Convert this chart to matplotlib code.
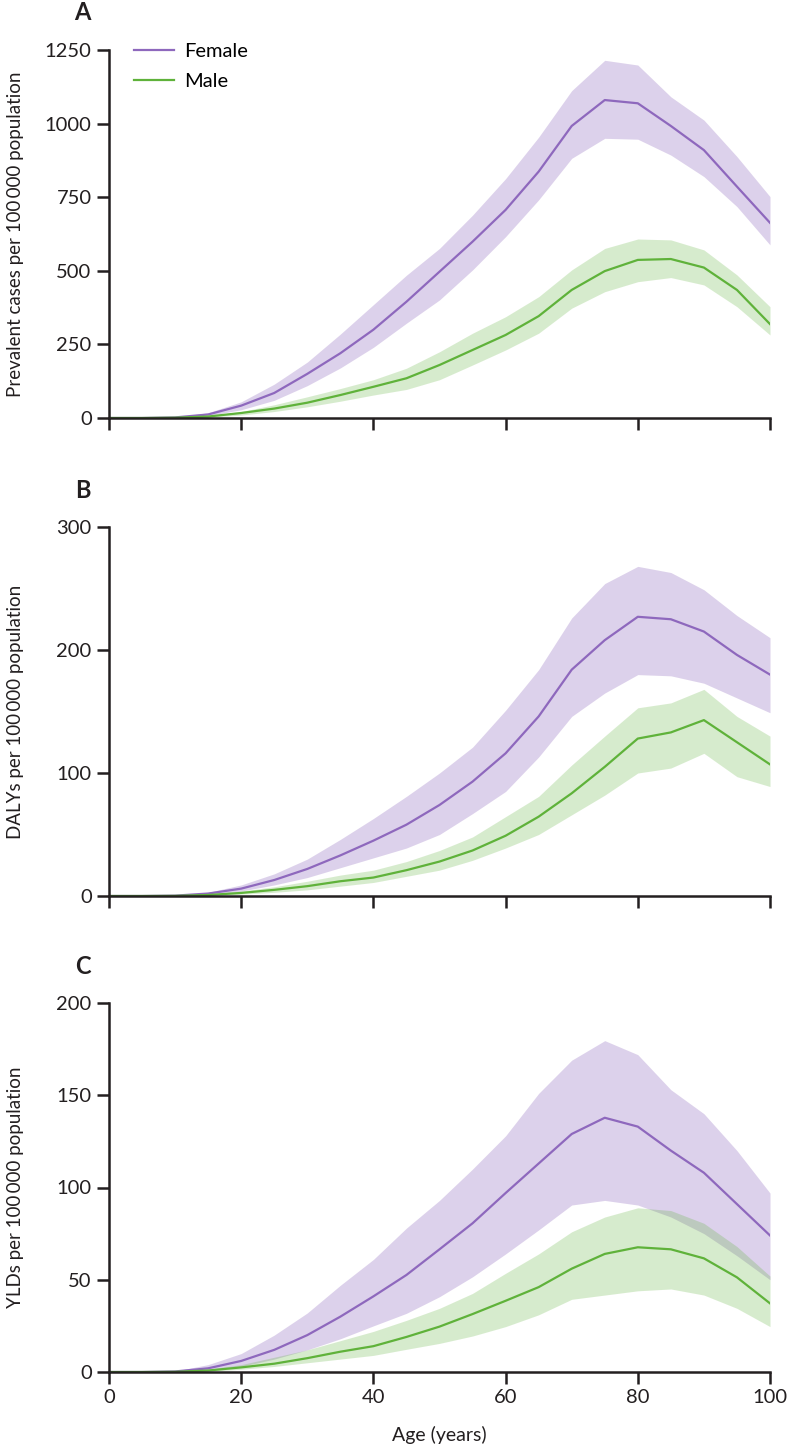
import numpy as np
import matplotlib
matplotlib.use('Agg')
import matplotlib.pyplot as plt

plt.rcParams['font.family'] = ['Lato', 'DejaVu Sans']

# =========================
# Datos
# =========================
ages = np.arange(0, 101, 5)

# A: casos prevalentes por 100 000
prev_f = [0, 0, 2, 12, 42, 85, 150, 220, 300, 395, 497, 599, 707, 837, 992, 1080, 1069, 992, 910, 786, 663]
prev_f_hi = [0, 0, 3, 18, 55, 115, 190, 285, 385, 485, 576, 689, 813, 954, 1112, 1215, 1199, 1091, 1012, 888, 752]
prev_f_lo = [0, 0, 1, 8, 28, 60, 110, 170, 240, 322, 401, 503, 616, 741, 882, 950, 947, 893, 820, 718, 588]
prev_m = [0, 0, 1, 5, 17, 32, 52, 78, 106, 135, 180, 231, 282, 346, 435, 499, 537, 540, 511, 435, 319]
prev_m_hi = [0, 0, 2, 8, 22, 45, 72, 100, 130, 169, 225, 288, 344, 412, 503, 576, 608, 605, 571, 486, 378]
prev_m_lo = [0, 0, 0.5, 3, 10, 22, 38, 57, 78, 97, 130, 180, 231, 288, 373, 429, 463, 477, 452, 378, 282]

# B: DALYs por 100 000
daly_f = [0, 0, 0.3, 2, 6, 13, 22, 33, 45, 58, 74, 93, 116, 146, 184, 208, 227, 225, 215, 196, 180]
daly_f_hi = [0, 0, 0.5, 3, 9, 18, 30, 46, 63, 81, 100, 121, 151, 184, 226, 254, 268, 263, 249, 228, 210]
daly_f_lo = [0, 0, 0.1, 1, 4, 9, 15, 23, 31, 39, 50, 67, 85, 113, 146, 165, 180, 179, 173, 161, 149]
daly_m = [0, 0, 0.1, 0.8, 2.5, 5, 8, 12, 15, 21, 28, 37, 49, 64.5, 83.5, 105, 128, 133, 143, 125, 107]
daly_m_hi = [0, 0, 0.2, 1.2, 4, 7.5, 12, 17, 21, 28, 37, 48, 64.5, 81, 106.5, 130, 153, 157, 168, 146, 130]
daly_m_lo = [0, 0, 0, 0.5, 1.5, 3, 5, 8, 11, 16, 21, 29, 39, 50, 66, 82, 100, 104, 116, 97, 89]

# C: YLDs por 100 000
yld_f = [0, 0, 0.3, 2, 6, 12, 20, 30, 41, 52.6, 66.5, 80.6, 97, 113, 129, 137.8, 133, 120, 108, 91, 74]
yld_f_hi = [0, 0, 0.5, 4, 10, 20, 32, 47, 61, 78, 93, 110, 128, 151, 169, 179.6, 172, 153, 140, 120, 97]
yld_f_lo = [0, 0, 0.1, 1, 3, 7, 12, 18, 25, 31.8, 40.8, 51.6, 64, 77, 90.5, 93, 90.5, 84, 75, 63, 50]
yld_m = [0, 0, 0.1, 0.8, 2.5, 4.5, 7.5, 11, 14, 19, 24.6, 31.4, 38.6, 46, 56, 64, 67.6, 66.5, 61.6, 51.3, 37.2]
yld_m_hi = [0, 0, 0.2, 1.5, 4, 8, 12, 17, 22, 28, 34.5, 42.6, 53.5, 64, 76, 84, 89, 87.5, 80.6, 68, 52]
yld_m_lo = [0, 0, 0, 0.4, 1.5, 3, 5, 7, 9, 12.3, 15.5, 19.5, 24.6, 31, 39.4, 41.7, 44, 45, 41.7, 34.5, 24.6]

panels = [
    ('A', 'Prevalent cases per 100\u2009000 population', 1250, [0, 250, 500, 750, 1000, 1250],
     prev_f, prev_f_lo, prev_f_hi, prev_m, prev_m_lo, prev_m_hi),
    ('B', 'DALYs per 100\u2009000 population', 300, [0, 100, 200, 300],
     daly_f, daly_f_lo, daly_f_hi, daly_m, daly_m_lo, daly_m_hi),
    ('C', 'YLDs per 100\u2009000 population', 200, [0, 50, 100, 150, 200],
     yld_f, yld_f_lo, yld_f_hi, yld_m, yld_m_lo, yld_m_hi),
]

col_f = '#8e68bd'
col_m = '#5fb23a'
negro = '#231f20'

W, H = 788, 1451
fig = plt.figure(figsize=(W / 100, H / 100), dpi=100)

# posiciones de los ejes en píxeles (arriba, abajo)
boxes = [(50, 418), (527, 896), (1003, 1372)]
x0, x1 = 109, 770

for i, (box, p) in enumerate(zip(boxes, panels)):
    letra, ylab, ymax, yt, f, flo, fhi, m, mlo, mhi = p
    top, bot = box
    ax = fig.add_axes([x0 / W, 1 - bot / H, (x1 - x0) / W, (bot - top) / H])

    ax.fill_between(ages, flo, fhi, color=col_f, alpha=0.3, lw=0)
    ax.fill_between(ages, mlo, mhi, color=col_m, alpha=0.25, lw=0)
    ax.plot(ages, f, color=col_f, lw=1.6, label='Female')
    ax.plot(ages, m, color=col_m, lw=1.6, label='Male')

    ax.set_xlim(0, 100)
    ax.set_ylim(0, ymax)
    ax.set_xticks([0, 20, 40, 60, 80, 100])
    ax.set_yticks(yt)
    ax.spines['top'].set_visible(False)
    ax.spines['right'].set_visible(False)
    for s in ['left', 'bottom']:
        ax.spines[s].set_linewidth(1.8)
        ax.spines[s].set_color(negro)
    ax.tick_params(direction='out', length=8.5, width=1.8, color=negro,
                   labelsize=14.5, pad=4, labelcolor=negro)
    if i < 2:
        ax.set_xticklabels([])
    else:
        ax.set_xlabel('Age (years)', fontsize=14, color=negro, labelpad=14)

    ax.set_ylabel(ylab, fontsize=13.5, color=negro)
    ax.yaxis.set_label_coords(-0.128, 0.5)
    ax.text(-0.04, 1.0 + 37 / (bot - top), letra, transform=ax.transAxes,
            fontsize=17, fontweight='bold', ha='center', va='center', color=negro)

    if i == 0:
        ax.legend(loc='upper left', bbox_to_anchor=(0.025, 1.04), frameon=False,
                  fontsize=14.5, handlelength=2.0, handletextpad=0.5,
                  labelspacing=0.6, borderaxespad=0)

fig.savefig('out.png', dpi=100)
